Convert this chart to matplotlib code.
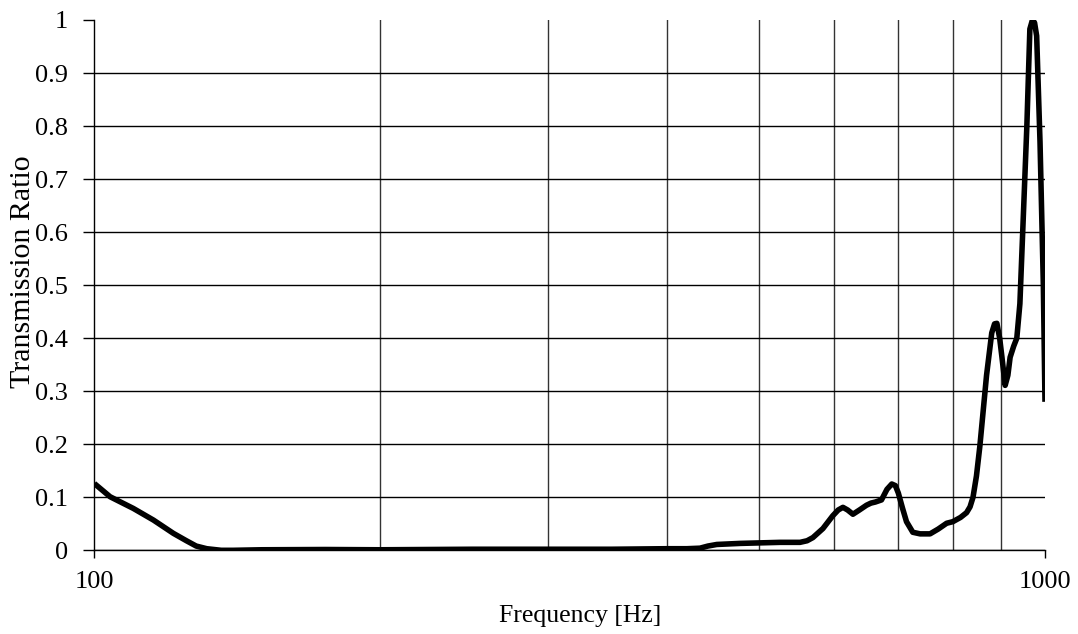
import matplotlib
matplotlib.use("Agg")
import matplotlib.pyplot as plt
from matplotlib.ticker import FixedLocator, FixedFormatter, NullFormatter

plt.rcParams['font.family'] = ['Liberation Serif', 'DejaVu Serif']

# Measured transmission ratio vs. frequency
freq = [100, 103.9, 109.9, 115.4, 121.1, 125, 128, 131.3, 136, 140, 150, 175,
        200, 250, 300, 350, 400, 420, 433.6, 442, 451.6, 477.7, 526.4, 552.5,
        562, 570, 584, 598, 606, 613, 620, 628, 638, 649, 656, 663, 673, 682,
        690, 696, 701, 708, 715, 726, 739, 757, 772, 788, 800, 815, 827, 834,
        840, 847, 854, 868, 879, 885, 890, 896, 901, 908, 914, 919, 927, 934,
        941, 949, 957, 964, 970, 975, 980, 988, 996, 1000]
ratio = [0.126, 0.101, 0.079, 0.057, 0.032, 0.018, 0.008, 0.003, 0.0, 0.0,
         0.001, 0.0015, 0.001, 0.002, 0.002, 0.002, 0.003, 0.003, 0.004, 0.008,
         0.011, 0.013, 0.015, 0.015, 0.018, 0.024, 0.041, 0.065, 0.076, 0.081,
         0.076, 0.068, 0.076, 0.085, 0.089, 0.091, 0.095, 0.115, 0.125, 0.122,
         0.108, 0.080, 0.054, 0.034, 0.031, 0.031, 0.040, 0.051, 0.054, 0.062,
         0.071, 0.082, 0.10, 0.14, 0.196, 0.33, 0.41, 0.427, 0.428, 0.40,
         0.364, 0.311, 0.33, 0.364, 0.385, 0.40, 0.465, 0.633, 0.80, 0.983,
         1.0, 0.995, 0.97, 0.77, 0.50, 0.28]

x_major = [100, 1000]
x_major_labels = ['100', '1000']
x_minor = [200, 300, 400, 500, 600, 700, 800, 900]
y_ticks = [0, 0.1, 0.2, 0.3, 0.4, 0.5, 0.6, 0.7, 0.8, 0.9, 1]
y_labels = ['0', '0.1', '0.2', '0.3', '0.4', '0.5', '0.6', '0.7', '0.8', '0.9', '1']

W, H = 1078, 634
fig = plt.figure(figsize=(W / 100, H / 100), dpi=100)
ax = fig.add_axes([94.3 / W, (H - 550.3) / H, (1045 - 94.3) / W, 530.3 / H])

ax.plot(freq, ratio, color='black', linewidth=4, solid_joinstyle='round',
        solid_capstyle='butt', zorder=3)

ax.set_xscale('log')
ax.set_xlim(100, 1000)
ax.set_ylim(0, 1)

ax.xaxis.set_major_locator(FixedLocator(x_major))
ax.xaxis.set_major_formatter(FixedFormatter(x_major_labels))
ax.xaxis.set_minor_locator(FixedLocator(x_minor))
ax.xaxis.set_minor_formatter(NullFormatter())
ax.set_yticks(y_ticks)
ax.set_yticklabels(y_labels)

ax.tick_params(axis='x', which='major', direction='out', length=6, width=1,
               color='black', labelsize=19, pad=9)
ax.tick_params(axis='x', which='minor', length=0)
ax.tick_params(axis='y', direction='out', length=8, width=1, color='black',
               labelsize=19, pad=11)

# Grid: horizontals every 0.1 (none along the top), verticals at each hundred
ax.grid(axis='y', which='major', color='black', linewidth=1)
ax.grid(axis='x', which='minor', color='#333333', linewidth=1)
ax.yaxis.get_gridlines()[-1].set_visible(False)
ax.set_axisbelow(True)

for s in ['top', 'right']:
    ax.spines[s].set_visible(False)
for s in ['left', 'bottom']:
    ax.spines[s].set_color('black')
    ax.spines[s].set_linewidth(1)

fig.text(580 / W, 1 - 616 / H, 'Frequency [Hz]', fontsize=18.5,
         ha='center', va='center')
fig.text(23 / W, 1 - 272 / H, 'Transmission Ratio', fontsize=21.5,
         ha='center', va='center', rotation=90)

fig.savefig('out.png', dpi=100)
